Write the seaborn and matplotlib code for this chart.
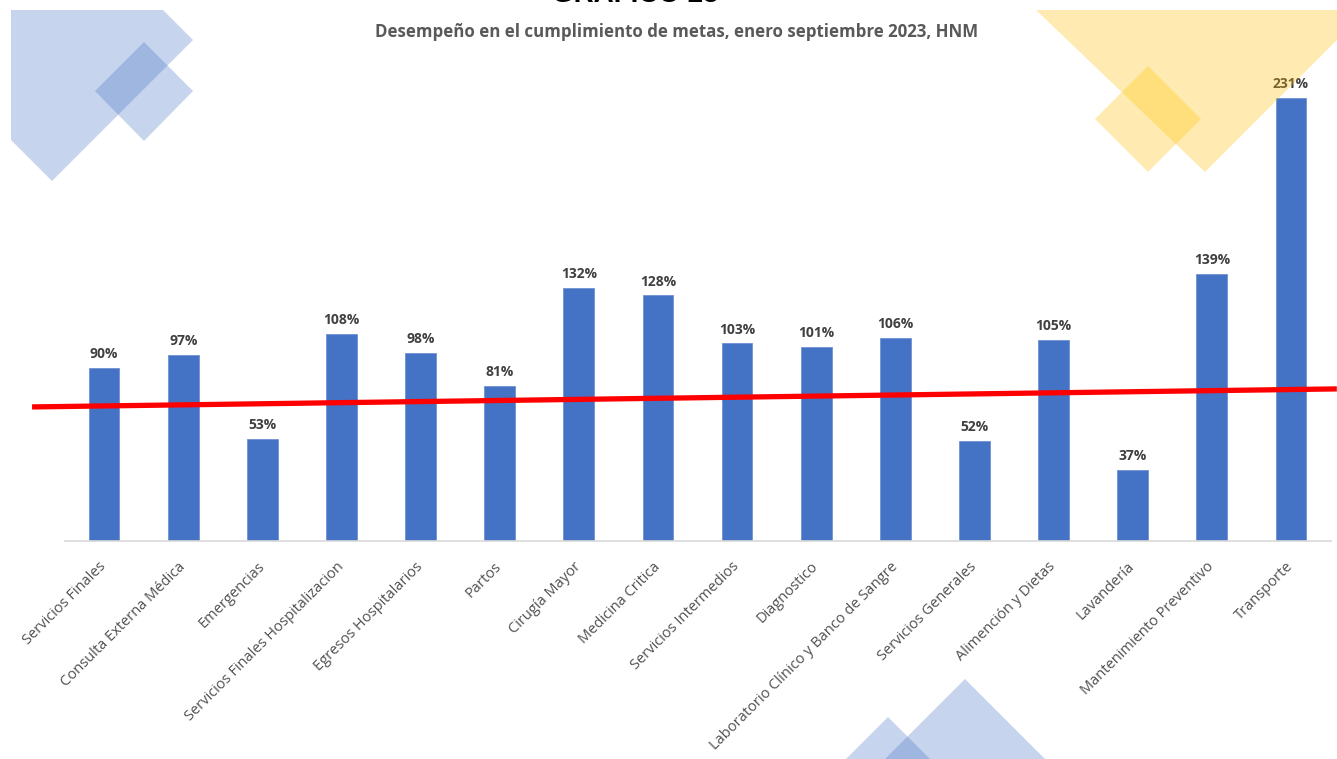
import matplotlib
matplotlib.use("Agg")
import matplotlib.pyplot as plt
from matplotlib.patches import Polygon
import seaborn as sns
import pandas as pd

categories = [
    "Servicios Finales", "Consulta Externa Médica", "Emergencias",
    "Servicios Finales Hospitalizacion", "Egresos Hospitalarios", "Partos",
    "Cirugía Mayor", "Medicina Critica", "Servicios Intermedios", "Diagnostico",
    "Laboratorio Clínico y Banco de Sangre", "Servicios Generales",
    "Alimención y Dietas", "Lavandería", "Mantenimiento Preventivo", "Transporte",
]
values = [90, 97, 53, 108, 98, 81, 132, 128, 103, 101, 106, 52, 105, 37, 139, 231]
value_labels = [f"{v}%" for v in values]

# red reference line (category position, percent)
ref_x = [-0.91, 15.58]
ref_y = [69.9, 79.3]

title = "GRÁFICO 25"
subtitle = "Desempeño en el cumplimiento de metas, enero septiembre 2023, HNM"

sns.set_style("white")
plt.rcParams["font.family"] = ["Open Sans", "DejaVu Sans"]

W, H = 1337, 759
fig = plt.figure(figsize=(W / 100, H / 100), dpi=100)

def px(points):
    return [(x / W, 1 - y / H) for x, y in points]

blue = "#4472C4"
yellow = "#FFC000"
deco = [
    ([(11, 10), (163, 10), (193, 40), (52, 181), (11, 140)], blue),
    ([(144, 42), (193, 91), (144, 141), (95, 91)], blue),
    ([(1036, 10), (1337, 10), (1337, 40), (1205, 172)], yellow),
    ([(1148, 66), (1201, 119), (1148, 172), (1095, 119)], yellow),
    ([(888, 717), (846, 759), (930, 759)], blue),
    ([(965, 679), (885, 759), (1045, 759)], blue),
]
for pts, col in deco:
    fig.patches.append(Polygon(px(pts), closed=True, transform=fig.transFigure,
                               facecolor=col, alpha=0.3, edgecolor="none", zorder=0))

ax = fig.add_axes([64.5 / W, 218 / H, 1266 / W, 240 * 1.918 / H])
ax.patch.set_alpha(0)

df = pd.DataFrame({"cat": categories, "val": values})
sns.barplot(data=df, x="cat", y="val", color=blue, saturation=1, width=0.39, ax=ax,
            edgecolor="#6f92d3", linewidth=0.6)

ax.bar_label(ax.containers[0], labels=value_labels, padding=5, fontsize=10,
             fontweight="bold", color="#404040")

ax.plot(ref_x, ref_y, color="#FF0000", lw=3.8, clip_on=False, solid_capstyle="butt", zorder=5)

ax.set_xlim(-0.5, 15.5)
ax.set_ylim(0, 240)
ax.set_xlabel("")
ax.set_ylabel("")
ax.set_yticks([])
for s in ["left", "right", "top"]:
    ax.spines[s].set_visible(False)
ax.spines["bottom"].set_color("#d9d9d9")
ax.spines["bottom"].set_linewidth(1.2)
ax.tick_params(axis="x", length=0, pad=17)
ax.set_xticks(range(len(categories)))
ax.set_xticklabels(categories, rotation=45, ha="right", va="center",
                   rotation_mode="anchor", fontsize=10.5, color="#505050")

fig.text(635 / W, 1 - 8 / H, title, ha="center", va="bottom", fontsize=20,
         fontweight="bold", color="black", family="Liberation Sans")
fig.text(677 / W, 1 - 32 / H, subtitle, ha="center", va="center", fontsize=12.2,
         fontweight="bold", color="#595959")

fig.savefig("out.png", dpi=100)
